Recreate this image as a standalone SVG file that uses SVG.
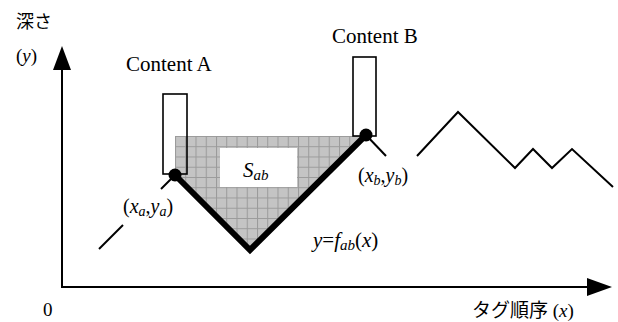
<svg xmlns="http://www.w3.org/2000/svg" width="618" height="322" viewBox="0 0 618 322">
<style>
.t{font-family:"Liberation Serif","Times New Roman","DejaVu Serif",serif;fill:#000}
.j{font-family:"Liberation Serif","Noto Sans CJK JP",serif;fill:#000}
.i{font-style:italic}
.thin{fill:none;stroke:#000;stroke-width:2}
.box{fill:none;stroke:#000;stroke-width:1.6}
.axis{stroke:#000;stroke-width:2;fill:none}
</style>
<defs>
<pattern id="grid" patternUnits="userSpaceOnUse" x="175" y="136" width="10.25" height="10.25">
<rect width="10.25" height="10.25" fill="#c4c4c4"/>
<path d="M0 0.5H10.25M0.5 0V10.25" stroke="#9a9a9a" stroke-width="1"/>
</pattern>
</defs>
<rect width="618" height="322" fill="#fff"/>
<g id="area">
<polygon points="175,136 366,136 250,252 175,177" fill="url(#grid)"/>
<rect x="220" y="148" width="77" height="39" fill="#fff"/>
<text class="t i" x="243" y="177" font-size="21">S<tspan font-size="15" dy="3">ab</tspan></text>
</g>
<g id="connectors">
<line class="axis" x1="62" y1="287" x2="62" y2="68"/>
<polygon points="62,46 53,70 71,70" fill="#000"/>
<line class="axis" x1="61" y1="287" x2="589" y2="287"/>
<polygon points="612,287 587,278 587,296" fill="#000"/>
<polyline class="thin" points="99,249 123,225"/>
<polyline class="thin" points="161,189 175,175"/>
<polyline class="thin" points="366,135 386,156"/>
<polyline class="thin" points="417,156 458,112 515,168 533,149 552,168 572,149 613,187"/>
<polyline points="175,175 250,250 366,135" fill="none" stroke="#000" stroke-width="6"/>
</g>
<g id="contentA">
<rect class="box" x="163" y="94" width="24" height="80"/>
<text class="t" x="126" y="71" font-size="21">Content A</text>
</g>
<g id="contentB">
<rect class="box" x="353" y="57" width="23" height="79"/>
<text class="t" x="332" y="43" font-size="21">Content B</text>
</g>
<g id="pointA">
<circle cx="175" cy="175" r="6.5" fill="#000"/>
<text class="t" x="123" y="213" font-size="20">(<tspan class="i">x</tspan><tspan class="i" font-size="14" dy="3">a</tspan><tspan dy="-3">,</tspan><tspan class="i">y</tspan><tspan class="i" font-size="14" dy="3">a</tspan><tspan dy="-3">)</tspan></text>
</g>
<g id="pointB">
<circle cx="366" cy="135" r="6.5" fill="#000"/>
<text class="t" x="358" y="182" font-size="20">(<tspan class="i">x</tspan><tspan class="i" font-size="14" dy="3">b</tspan><tspan dy="-3">,</tspan><tspan class="i">y</tspan><tspan class="i" font-size="14" dy="3">b</tspan><tspan dy="-3">)</tspan></text>
</g>
<g id="func">
<text class="t" x="313" y="247" font-size="21"><tspan class="i">y</tspan>=<tspan class="i">f</tspan><tspan class="i" font-size="15" dy="3">ab</tspan><tspan dy="-3">(</tspan><tspan class="i">x</tspan>)</text>
</g>
<g id="labels">
<text class="j" x="16" y="28" font-size="18">深さ</text>
<text class="t" x="16" y="62" font-size="19">(<tspan class="i">y</tspan>)</text>
<text class="t" x="43" y="316" font-size="19">0</text>
<text class="j" x="472" y="317" font-size="19">タグ順序 (<tspan class="i">x</tspan>)</text>
</g>
</svg>
